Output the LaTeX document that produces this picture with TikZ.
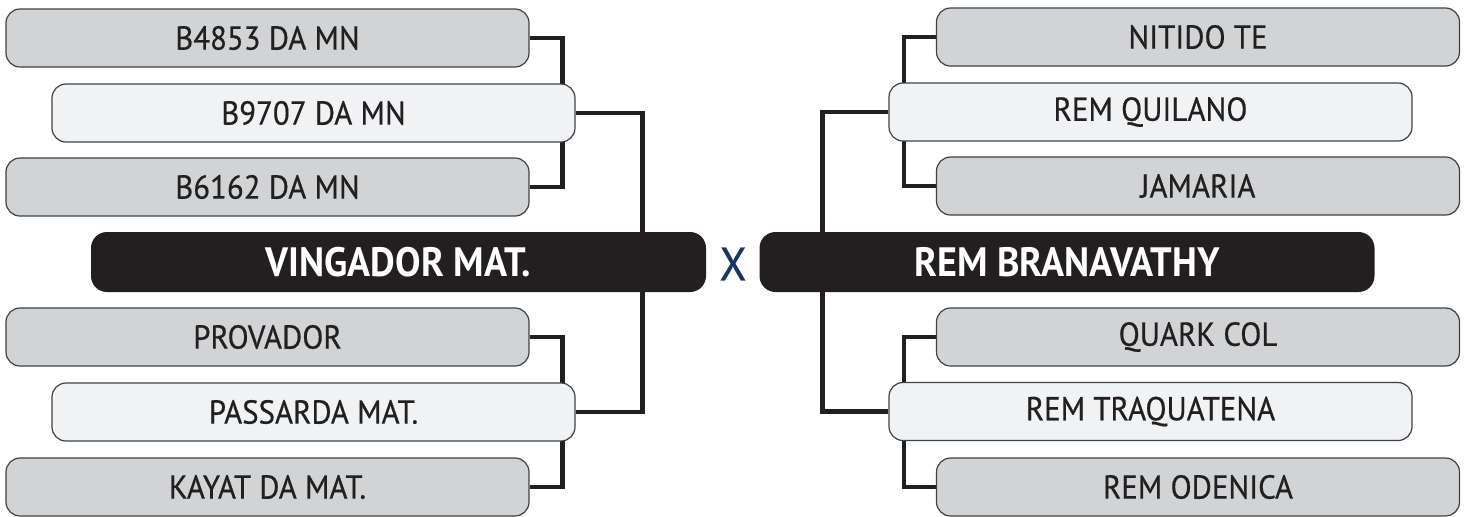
\documentclass[tikz,border=0pt]{standalone}
\usepackage{fontspec}
\setmainfont{PT Sans}[FakeStretch=0.93,UprightFeatures={FakeBold=0.5}]
\usetikzlibrary{positioning,backgrounds}
\definecolor{SlotGray}{RGB}{209,211,212}
\definecolor{SlotLight}{RGB}{241,242,243}
\definecolor{InkDark}{RGB}{35,31,32}
\definecolor{EdgeGray}{RGB}{65,64,66}
\definecolor{VsNavy}{RGB}{28,52,97}
\tikzset{
  seed/.style={draw=EdgeGray,rounded corners=7pt,fill=SlotGray,line width=0.6pt,
    minimum width=261.5pt,minimum height=29pt,inner sep=0pt,
    font=\fontsize{16.6}{18}\selectfont,text=InkDark},
  pick/.style={seed,fill=SlotLight},
  team/.style={draw=none,rounded corners=8pt,fill=InkDark,
    minimum width=307.5pt,minimum height=30pt,inner sep=0pt,
    font=\fontsize{20.5}{22}\selectfont\bfseries,text=white},
  bracket/.style={line width=2.4pt,InkDark}
}
\begin{document}
\begin{tikzpicture}[x=0.5pt,y=-0.5pt]
  \useasboundingbox (0,0) rectangle (1467,516);
  \node[seed] (b4853) at (267.5,38) {B4853 DA MN};
  \node[pick] (b9707) at (313.5,113) {B9707 DA MN};
  \node[seed] (b6162) at (267.5,187) {B6162 DA MN};
  \node[team] (vingador) at (398.5,262) {VINGADOR MAT.};
  \node[seed] (provador) at (267.5,337) {PROVADOR};
  \node[pick] (passarda) at (313.5,412) {PASSARDA MAT.};
  \node[seed] (kayat) at (267.5,487) {KAYAT DA MAT.};
  \node[text=VsNavy,font=\fontsize{23.5}{25}\selectfont] (versus) at (733,264) {X};
  \node[seed] (nitido) at (1198,37) {NITIDO TE};
  \node[pick] (quilano) at (1150.5,112) {REM QUILANO};
  \node[seed] (jamaria) at (1198,186) {JAMARIA};
  \node[team] (branavathy) at (1067,262) {REM BRANAVATHY};
  \node[seed] (quark) at (1198,337) {QUARK COL};
  \node[pick] (traquatena) at (1150.5,411.5) {REM TRAQUATENA};
  \node[seed] (odenica) at (1198,487) {REM ODENICA};
  \begin{scope}[on background layer]
    \draw[bracket] (b4853.east) -- ++(33,0) |- (b6162.east);
    \draw[bracket] (provador.east) -- ++(33,0) |- (kayat.east);
    \draw[bracket] (b9707.east) -- ++(67,0) |- (passarda.east);
    \draw[bracket] (nitido.west) -- ++(-32,0) |- (jamaria.west);
    \draw[bracket] (quark.west) -- ++(-32,0) |- (odenica.west);
    \draw[bracket] (quilano.west) -- ++(-66,0) |- (traquatena.west);
  \end{scope}
\end{tikzpicture}
\end{document}
